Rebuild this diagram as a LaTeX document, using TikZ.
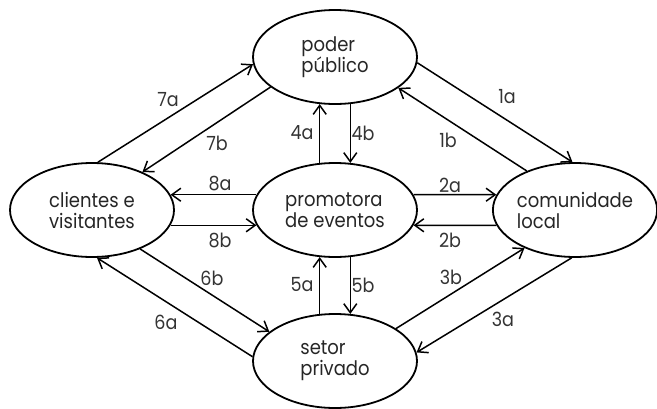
\documentclass[tikz,border=0pt]{standalone}
\usepackage{fontspec}
\setmainfont{Poppins}[FakeStretch=0.9]
\usetikzlibrary{arrows.meta,shapes.geometric}
\tikzset{
  actor/.style={ellipse, draw, line width=1.8pt, minimum width=164pt, minimum height=94pt,
    inner sep=0pt, align=left, font=\fontsize{20}{21}\selectfont, text=black!85},
  flow/.style={line width=1.5pt, -{Straight Barb[length=9pt,width=13pt,line width=1.5pt]}},
  tag/.style={font=\fontsize{19.5}{20}\selectfont, text=black!80, inner sep=0pt}
}
\begin{document}
\begin{tikzpicture}[x=1pt,y=-1pt]
\useasboundingbox (0,0) rectangle (657,408);
% the five actors
\node[actor] (pp) at (335,57)  {poder\\público};
\node[actor] (cv) at (92,210)  {clientes e\\visitantes};
\node[actor] (pe) at (335,210) {promotora\\de eventos};
\node[actor] (cl) at (575,210) {comunidade\\local};
\node[actor] (sp) at (335,361) {setor\\privado};
% flows 1 to 8
\draw[flow] (pp.356) -- (cl.93);
\draw[flow] (cl.141) -- (pp.334);
\draw[flow] (pe.11) -- (cl.169);
\draw[flow] (cl.191) -- (pe.349);
\draw[flow] (cl.266) -- (sp.6);
\draw[flow] (sp.28) -- (cl.217);
\draw[flow] (pe.108) -- (pp.252);
\draw[flow] (pp.288) -- (pe.72);
\draw[flow] (sp.108) -- (pe.252);
\draw[flow] (pe.288) -- (sp.72);
\draw[flow] (sp.177) -- (cv.276);
\draw[flow] (cv.321) -- (sp.156);
\draw[flow] (cv.83) -- (pp.185);
\draw[flow] (pp.205) -- (cv.37);
\draw[flow] (pe.169) -- (cv.11);
\draw[flow] (cv.349) -- (pe.191);
% flow labels
\node[tag] (l1a) at (507,97)  {1a};
\node[tag] (l1b) at (448,140) {1b};
\node[tag] (l2a) at (450,185) {2a};
\node[tag] (l2b) at (450,240) {2b};
\node[tag] (l3a) at (503,319) {3a};
\node[tag] (l3b) at (451,277) {3b};
\node[tag] (l4a) at (302,133) {4a};
\node[tag] (l4b) at (363,133) {4b};
\node[tag] (l5a) at (302,285) {5a};
\node[tag] (l5b) at (363,285) {5b};
\node[tag] (l6a) at (166,322) {6a};
\node[tag] (l6b) at (212,278) {6b};
\node[tag] (l7a) at (168,100) {7a};
\node[tag] (l7b) at (217,143) {7b};
\node[tag] (l8a) at (220,184) {8a};
\node[tag] (l8b) at (220,240) {8b};
\end{tikzpicture}
\end{document}
